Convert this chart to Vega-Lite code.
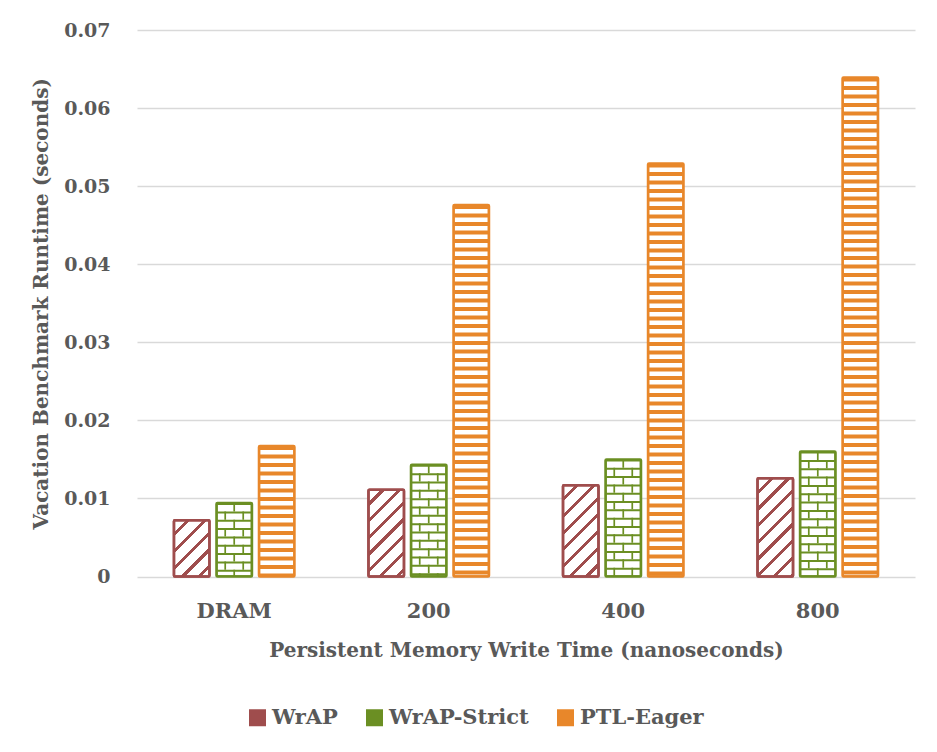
{
  "$schema": "https://vega.github.io/schema/vega-lite/v6.json",
  "width": 778,
  "height": 546.5,
  "autosize": {"type": "none"},
  "padding": {"left": 137, "top": 30, "right": 22, "bottom": 175.5},
  "background": "white",
  "data": {
    "values": [
      {"cat": "DRAM", "series": "WrAP", "value": 0.0072},
      {"cat": "DRAM", "series": "WrAP-Strict", "value": 0.0094},
      {"cat": "DRAM", "series": "PTL-Eager", "value": 0.0167},
      {"cat": "200", "series": "WrAP", "value": 0.0111},
      {"cat": "200", "series": "WrAP-Strict", "value": 0.0143},
      {"cat": "200", "series": "PTL-Eager", "value": 0.0476},
      {"cat": "400", "series": "WrAP", "value": 0.0117},
      {"cat": "400", "series": "WrAP-Strict", "value": 0.0150},
      {"cat": "400", "series": "PTL-Eager", "value": 0.0529},
      {"cat": "800", "series": "WrAP", "value": 0.0126},
      {"cat": "800", "series": "WrAP-Strict", "value": 0.0160},
      {"cat": "800", "series": "PTL-Eager", "value": 0.0639}
    ]
  },
  "encoding": {
    "x": {
      "field": "cat",
      "type": "nominal",
      "title": "Persistent Memory Write Time (nanoseconds)",
      "scale": {"domain": ["DRAM", "200", "400", "800"], "paddingInner": 0.3805, "paddingOuter": 0.19}
    },
    "y": {
      "field": "value",
      "type": "quantitative",
      "title": "Vacation Benchmark Runtime (seconds)",
      "scale": {"domain": [0, 0.07], "nice": false},
      "axis": {
        "values": [0, 0.01, 0.02, 0.03, 0.04, 0.05, 0.06, 0.07],
        "format": ".2~f"
      }
    }
  },
  "layer": [
    {
      "mark": {"type": "bar", "cornerRadius": 1},
      "encoding": {
        "xOffset": {"field": "series", "type": "nominal", "scale": {"domain": ["WrAP", "WrAP-Strict", "PTL-Eager"], "paddingInner": 0.165, "paddingOuter": 0}},
        "color": {
          "field": "series",
          "type": "nominal",
          "scale": {"domain": ["WrAP", "WrAP-Strict", "PTL-Eager"], "range": ["#9F4D4D", "#6B8F23", "#E8872A"]},
          "legend": {
            "title": null,
            "orient": "none",
            "direction": "horizontal",
            "legendX": 110,
            "legendY": 677,
            "symbolType": "square",
            "symbolSize": 289,
            "symbolStrokeWidth": 0,
            "symbolOpacity": 1,
            "labelFont": "DejaVu Serif",
            "labelFontSize": 21,
            "labelFontWeight": "bold",
            "labelColor": "#595959",
            "labelOffset": 4,
            "columnPadding": 26
          }
        }
      }
    },
    {
      "mark": {"type": "bar", "cornerRadius": 1, "strokeWidth": 2.5},
      "encoding": {
        "xOffset": {"field": "series", "type": "nominal", "scale": {"domain": ["WrAP", "WrAP-Strict", "PTL-Eager"], "paddingInner": 0.165, "paddingOuter": 0}},
        "fill": {"value": "white"},
        "stroke": {
          "field": "series",
          "type": "nominal",
          "scale": {"domain": ["WrAP", "WrAP-Strict", "PTL-Eager"], "range": ["#9F4D4D", "#6B8F23", "#E8872A"]},
          "legend": null
        }
      }
    },
    {
      "transform": [{"filter": "datum.series === 'WrAP'"}],
      "mark": {"type": "bar", "cornerRadius": 1, "strokeWidth": 2.5, "stroke": "#9F4D4D"},
      "encoding": {
        "xOffset": {"field": "series", "type": "nominal", "scale": {"domain": ["WrAP", "WrAP-Strict", "PTL-Eager"], "paddingInner": 0.165, "paddingOuter": 0}},
        "fill": {
          "condition": [
            {
              "test": "datum.cat === 'DRAM'",
              "value": {
                "gradient": "linear", "x1": 0, "y1": 0, "x2": 0.7367, "y2": 1.1662,
                "stops": [
                  {"offset": 0, "color": "white"}, {"offset": 0.1366, "color": "white"}, {"offset": 0.1366, "color": "#9F4D4D"}, {"offset": 0.1821, "color": "#9F4D4D"},
                  {"offset": 0.1821, "color": "white"}, {"offset": 0.3187, "color": "white"}, {"offset": 0.3187, "color": "#9F4D4D"}, {"offset": 0.3642, "color": "#9F4D4D"},
                  {"offset": 0.3642, "color": "white"}, {"offset": 0.5008, "color": "white"}, {"offset": 0.5008, "color": "#9F4D4D"}, {"offset": 0.5463, "color": "#9F4D4D"},
                  {"offset": 0.5463, "color": "white"}, {"offset": 0.6829, "color": "white"}, {"offset": 0.6829, "color": "#9F4D4D"}, {"offset": 0.7284, "color": "#9F4D4D"},
                  {"offset": 0.7284, "color": "white"}, {"offset": 0.865, "color": "white"}, {"offset": 0.865, "color": "#9F4D4D"}, {"offset": 0.9105, "color": "#9F4D4D"},
                  {"offset": 0.9105, "color": "white"}, {"offset": 1, "color": "white"}
                ]
              }
            },
            {
              "test": "datum.cat === '200'",
              "value": {
                "gradient": "linear", "x1": 0, "y1": 0, "x2": 0.4943, "y2": 1.2071,
                "stops": [
                  {"offset": 0, "color": "white"}, {"offset": 0.1025, "color": "white"}, {"offset": 0.1025, "color": "#9F4D4D"}, {"offset": 0.1367, "color": "#9F4D4D"},
                  {"offset": 0.1367, "color": "white"}, {"offset": 0.2392, "color": "white"}, {"offset": 0.2392, "color": "#9F4D4D"}, {"offset": 0.2733, "color": "#9F4D4D"},
                  {"offset": 0.2733, "color": "white"}, {"offset": 0.3758, "color": "white"}, {"offset": 0.3758, "color": "#9F4D4D"}, {"offset": 0.41, "color": "#9F4D4D"},
                  {"offset": 0.41, "color": "white"}, {"offset": 0.5125, "color": "white"}, {"offset": 0.5125, "color": "#9F4D4D"}, {"offset": 0.5467, "color": "#9F4D4D"},
                  {"offset": 0.5467, "color": "white"}, {"offset": 0.6492, "color": "white"}, {"offset": 0.6492, "color": "#9F4D4D"}, {"offset": 0.6833, "color": "#9F4D4D"},
                  {"offset": 0.6833, "color": "white"}, {"offset": 0.7858, "color": "white"}, {"offset": 0.7858, "color": "#9F4D4D"}, {"offset": 0.82, "color": "#9F4D4D"},
                  {"offset": 0.82, "color": "white"}, {"offset": 0.9225, "color": "white"}, {"offset": 0.9225, "color": "#9F4D4D"}, {"offset": 0.9567, "color": "#9F4D4D"},
                  {"offset": 0.9567, "color": "white"}, {"offset": 1, "color": "white"}
                ]
              }
            },
            {
              "test": "datum.cat === '400'",
              "value": {
                "gradient": "linear", "x1": 0, "y1": 0, "x2": 0.4691, "y2": 1.2065,
                "stops": [
                  {"offset": 0, "color": "white"}, {"offset": 0.0988, "color": "white"}, {"offset": 0.0988, "color": "#9F4D4D"}, {"offset": 0.1317, "color": "#9F4D4D"},
                  {"offset": 0.1317, "color": "white"}, {"offset": 0.2305, "color": "white"}, {"offset": 0.2305, "color": "#9F4D4D"}, {"offset": 0.2634, "color": "#9F4D4D"},
                  {"offset": 0.2634, "color": "white"}, {"offset": 0.3622, "color": "white"}, {"offset": 0.3622, "color": "#9F4D4D"}, {"offset": 0.3951, "color": "#9F4D4D"},
                  {"offset": 0.3951, "color": "white"}, {"offset": 0.4939, "color": "white"}, {"offset": 0.4939, "color": "#9F4D4D"}, {"offset": 0.5268, "color": "#9F4D4D"},
                  {"offset": 0.5268, "color": "white"}, {"offset": 0.6256, "color": "white"}, {"offset": 0.6256, "color": "#9F4D4D"}, {"offset": 0.6585, "color": "#9F4D4D"},
                  {"offset": 0.6585, "color": "white"}, {"offset": 0.7573, "color": "white"}, {"offset": 0.7573, "color": "#9F4D4D"}, {"offset": 0.7902, "color": "#9F4D4D"},
                  {"offset": 0.7902, "color": "white"}, {"offset": 0.889, "color": "white"}, {"offset": 0.889, "color": "#9F4D4D"}, {"offset": 0.9219, "color": "#9F4D4D"},
                  {"offset": 0.9219, "color": "white"}, {"offset": 1, "color": "white"}
                ]
              }
            }
          ],
          "value": {
            "gradient": "linear", "x1": 0, "y1": 0, "x2": 0.4344, "y2": 1.2041,
            "stops": [
              {"offset": 0, "color": "white"}, {"offset": 0.0935, "color": "white"}, {"offset": 0.0935, "color": "#9F4D4D"}, {"offset": 0.1247, "color": "#9F4D4D"},
              {"offset": 0.1247, "color": "white"}, {"offset": 0.2182, "color": "white"}, {"offset": 0.2182, "color": "#9F4D4D"}, {"offset": 0.2494, "color": "#9F4D4D"},
              {"offset": 0.2494, "color": "white"}, {"offset": 0.3429, "color": "white"}, {"offset": 0.3429, "color": "#9F4D4D"}, {"offset": 0.3741, "color": "#9F4D4D"},
              {"offset": 0.3741, "color": "white"}, {"offset": 0.4676, "color": "white"}, {"offset": 0.4676, "color": "#9F4D4D"}, {"offset": 0.4988, "color": "#9F4D4D"},
              {"offset": 0.4988, "color": "white"}, {"offset": 0.5923, "color": "white"}, {"offset": 0.5923, "color": "#9F4D4D"}, {"offset": 0.6235, "color": "#9F4D4D"},
              {"offset": 0.6235, "color": "white"}, {"offset": 0.717, "color": "white"}, {"offset": 0.717, "color": "#9F4D4D"}, {"offset": 0.7482, "color": "#9F4D4D"},
              {"offset": 0.7482, "color": "white"}, {"offset": 0.8417, "color": "white"}, {"offset": 0.8417, "color": "#9F4D4D"}, {"offset": 0.8729, "color": "#9F4D4D"},
              {"offset": 0.8729, "color": "white"}, {"offset": 0.9664, "color": "white"}, {"offset": 0.9664, "color": "#9F4D4D"}, {"offset": 0.9976, "color": "#9F4D4D"},
              {"offset": 0.9976, "color": "white"}, {"offset": 1, "color": "white"}
            ]
          }
        }
      }
    },
    {
      "transform": [{"filter": "datum.series === 'WrAP-Strict'"}],
      "mark": {"type": "rule", "color": "#6B8F23", "strokeWidth": 34, "strokeDash": [2, 6.33], "strokeCap": "butt"},
      "encoding": {
        "x": {"field": "cat", "type": "nominal", "bandPosition": 0.5, "title": "Persistent Memory Write Time (nanoseconds)"},
        "y2": {"datum": 0}
      }
    },
    {
      "transform": [{"filter": "datum.series === 'WrAP-Strict'"}],
      "mark": {"type": "rule", "color": "#6B8F23", "strokeWidth": 1.7, "strokeDash": [8.33, 8.33], "strokeCap": "butt"},
      "encoding": {
        "x": {"field": "cat", "type": "nominal", "bandPosition": 0.5, "title": "Persistent Memory Write Time (nanoseconds)"},
        "y2": {"datum": 0}
      }
    },
    {
      "transform": [{"filter": "datum.series === 'WrAP-Strict'"}],
      "mark": {"type": "rule", "color": "#6B8F23", "strokeWidth": 1.7, "strokeDash": [8.33, 8.33], "strokeDashOffset": 8.33, "strokeCap": "butt"},
      "encoding": {
        "x": {"field": "cat", "type": "nominal", "bandPosition": 0.4253, "title": "Persistent Memory Write Time (nanoseconds)"},
        "y2": {"datum": 0}
      }
    },
    {
      "transform": [{"filter": "datum.series === 'WrAP-Strict'"}],
      "mark": {"type": "rule", "color": "#6B8F23", "strokeWidth": 1.7, "strokeDash": [8.33, 8.33], "strokeDashOffset": 8.33, "strokeCap": "butt"},
      "encoding": {
        "x": {"field": "cat", "type": "nominal", "bandPosition": 0.5747, "title": "Persistent Memory Write Time (nanoseconds)"},
        "y2": {"datum": 0}
      }
    },
    {
      "transform": [{"filter": "datum.series === 'PTL-Eager'"}],
      "mark": {"type": "rule", "color": "#E8872A", "strokeWidth": 34, "strokeDash": [4, 4.5], "strokeCap": "butt"},
      "encoding": {
        "x": {"field": "cat", "type": "nominal", "bandPosition": 0.8527, "title": "Persistent Memory Write Time (nanoseconds)"},
        "y2": {"datum": 0}
      }
    }
  ],
  "config": {
    "view": {"stroke": null},
    "axis": {
      "gridColor": "#D9D9D9",
      "gridWidth": 1.3,
      "ticks": false,
      "domain": false,
      "labelFont": "DejaVu Serif",
      "labelFontSize": 19,
      "labelFontWeight": "bold",
      "labelColor": "#595959",
      "titleFont": "DejaVu Serif",
      "titleFontSize": 20,
      "titleFontWeight": "bold",
      "titleColor": "#595959"
    },
    "axisX": {"labelAngle": 0, "grid": false, "labelFontSize": 21, "labelPadding": 24, "titlePadding": 19},
    "axisY": {"grid": true, "labelPadding": 27, "titlePadding": 12}
  }
}
